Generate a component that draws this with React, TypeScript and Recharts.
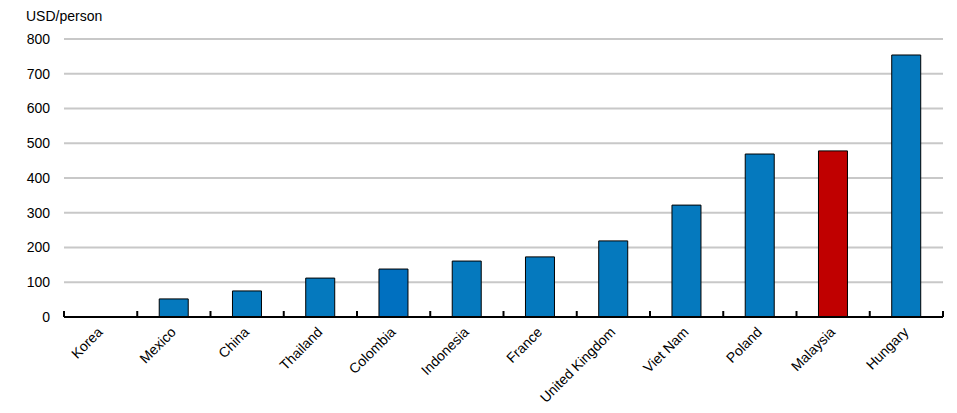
import { BarChart, Bar, XAxis, YAxis, CartesianGrid, Cell } from "recharts";

const countries = [
  "Korea", "Mexico", "China", "Thailand", "Colombia", "Indonesia",
  "France", "United Kingdom", "Viet Nam", "Poland", "Malaysia", "Hungary",
];
const values = [0, 52, 75, 112, 138, 161, 173, 219, 322, 469, 478, 754];
const yTicks = [0, 100, 200, 300, 400, 500, 600, 700, 800];

const BLUE = "#0579be";
const DARK_BLUE = "#0070c0";
const RED = "#c00000";
const FONT = "'Liberation Sans', Arial, sans-serif";

const data = countries.map((name, i) => ({ name, value: values[i] }));

const W = 957;
const H = 413;
const LEFT = 64;
const RIGHT = 14;
const XAXIS_H = 96;
const AXIS_Y = H - XAXIS_H;
const band = (W - LEFT - RIGHT) / countries.length;

function barColor(name: string) {
  if (name === "Malaysia") return RED;
  if (name === "Colombia") return DARK_BLUE;
  return BLUE;
}

// category label plus a small tick at the category boundaries
function CountryTick(props: any) {
  const { x, payload, index } = props;
  const half = band / 2;
  const ty = AXIS_Y + 16;
  return (
    <g>
      <line x1={x - half} x2={x - half} y1={AXIS_Y} y2={AXIS_Y - 6} stroke="#000" strokeWidth={2} />
      {index === countries.length - 1 && (
        <line x1={x + half} x2={x + half} y1={AXIS_Y} y2={AXIS_Y - 6} stroke="#000" strokeWidth={2} />
      )}
      <text
        x={x + 3}
        y={ty}
        transform={`rotate(-45 ${x + 3} ${ty})`}
        textAnchor="end"
        fontSize={14}
        fontFamily={FONT}
        fill="#000"
      >
        {payload.value}
      </text>
    </g>
  );
}

export default function App() {
  return (
    <div style={{ position: "absolute", left: 0, top: 0, width: W, height: H, background: "#fff" }}>
      <div style={{ position: "absolute", left: 26, top: 8, fontFamily: FONT, fontSize: 14, color: "#000" }}>
        USD/person
      </div>
      <BarChart
        width={W}
        height={H}
        data={data}
        margin={{ top: 39, right: RIGHT, left: 0, bottom: 0 }}
        barCategoryGap="30%"
      >
        <CartesianGrid vertical={false} stroke="#c8c8c8" strokeWidth={2} />
        <YAxis
          domain={[0, 800]}
          ticks={yTicks}
          width={LEFT}
          axisLine={false}
          tickLine={false}
          tickMargin={8}
          interval={0}
          tick={{ fontSize: 14, fontFamily: FONT, fill: "#000" }}
        />
        <XAxis
          dataKey="name"
          height={XAXIS_H}
          interval={0}
          axisLine={{ stroke: "#000", strokeWidth: 2 }}
          tickLine={false}
          tick={<CountryTick />}
        />
        <Bar dataKey="value" stroke="#000" strokeWidth={1} isAnimationActive={false}>
          {data.map((d) => (
            <Cell key={d.name} fill={barColor(d.name)} />
          ))}
        </Bar>
      </BarChart>
    </div>
  );
}
